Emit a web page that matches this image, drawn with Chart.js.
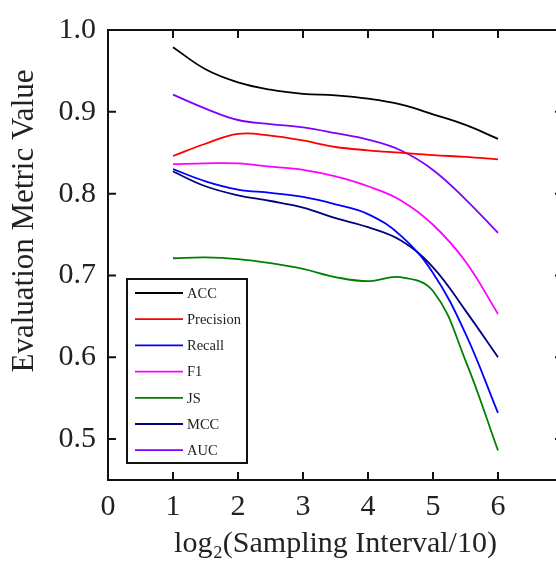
<!DOCTYPE html>
<html>
<head>
<meta charset="utf-8">
<script src="https://cdn.jsdelivr.net/npm/chart.js@4.4.1/dist/chart.umd.min.js"></script>
<style>
html, body { margin: 0; padding: 0; overflow: hidden; background: #fff; width: 556px; height: 562px; }
canvas { display: block; }
</style>
</head>
<body>
<canvas id="c" width="572" height="562"></canvas>
<script>
// x positions: log2(Sampling Interval/10)
const xValues = [1, 1.5, 2, 2.5, 3, 3.5, 4, 4.5, 5, 5.5, 6];
const accValues       = [0.979, 0.952, 0.936, 0.927, 0.922, 0.920, 0.916, 0.909, 0.897, 0.884, 0.867];
const precisionValues = [0.846, 0.861, 0.873, 0.871, 0.865, 0.857, 0.853, 0.850, 0.847, 0.845, 0.842];
const recallValues    = [0.830, 0.815, 0.805, 0.801, 0.796, 0.787, 0.775, 0.749, 0.703, 0.629, 0.532];
const f1Values        = [0.836, 0.837, 0.837, 0.833, 0.829, 0.821, 0.809, 0.792, 0.762, 0.717, 0.653];
const jsValues        = [0.721, 0.722, 0.720, 0.715, 0.708, 0.698, 0.693, 0.698, 0.681, 0.596, 0.486];
const mccValues       = [0.827, 0.809, 0.798, 0.791, 0.783, 0.770, 0.759, 0.743, 0.710, 0.657, 0.600];
const aucValues       = [0.921, 0.904, 0.890, 0.885, 0.881, 0.874, 0.866, 0.853, 0.829, 0.793, 0.752];
const seriesNames  = ['ACC', 'Precision', 'Recall', 'F1', 'JS', 'MCC', 'AUC'];
const seriesColors = ['#000000', '#ff0000', '#0000ff', '#ff00ff', '#008000', '#000080', '#8000ff'];
const xTicks = [0, 1, 2, 3, 4, 5, 6];
const yTicks = [0.5, 0.6, 0.7, 0.8, 0.9, 1.0];
const xTitle = 'log\u2082(Sampling Interval/10)';
const yTitle = 'Evaluation Metric Value';

const allSeries = [accValues, precisionValues, recallValues, f1Values, jsValues, mccValues, aucValues];
const datasets = allSeries.map((vals, i) => ({
  label: seriesNames[i],
  data: vals.map((v, j) => ({ x: xValues[j], y: v })),
  borderColor: seriesColors[i],
  backgroundColor: seriesColors[i],
  borderWidth: 1.8,
  pointRadius: 0,
  tension: 0.4,
  fill: false
}));

const FONT = '"Liberation Serif", "Times New Roman", serif';

const framePlugin = {
  id: 'frame',
  afterDraw(chart) {
    const { ctx, chartArea: a, scales } = chart;
    const xs = scales.x, ys = scales.y;
    ctx.save();
    ctx.strokeStyle = '#111';
    ctx.lineWidth = 2;
    ctx.beginPath();
    ctx.rect(a.left, a.top, a.right - a.left, a.bottom - a.top);
    ctx.stroke();
    const t = 8;
    ctx.beginPath();
    xTicks.forEach(v => {
      const px = xs.getPixelForValue(v);
      ctx.moveTo(px, a.bottom); ctx.lineTo(px, a.bottom - t);
      ctx.moveTo(px, a.top); ctx.lineTo(px, a.top + t);
    });
    yTicks.forEach(v => {
      const py = ys.getPixelForValue(v);
      ctx.moveTo(a.left, py); ctx.lineTo(a.left + t, py);
      ctx.moveTo(a.right, py); ctx.lineTo(a.right - t, py);
    });
    ctx.stroke();

    // y-axis title
    ctx.save();
    ctx.translate(25, 221);
    ctx.rotate(-Math.PI / 2);
    ctx.font = '31px ' + FONT;
    ctx.fillStyle = '#222';
    ctx.textAlign = 'center';
    ctx.textBaseline = 'middle';
    ctx.fillText(yTitle, 0, 0);
    ctx.restore();

    // legend box
    const bx = 127, by = 279, bw = 120, bh = 184;
    ctx.fillStyle = '#fff';
    ctx.fillRect(bx, by, bw, bh);
    ctx.lineWidth = 2;
    ctx.strokeStyle = '#111';
    ctx.strokeRect(bx, by, bw, bh);
    ctx.font = '14.5px ' + FONT;
    ctx.textBaseline = 'middle';
    chart.data.datasets.forEach((ds, i) => {
      const y = by + 14 + i * 26.2;
      ctx.strokeStyle = ds.borderColor;
      ctx.lineWidth = 1.8;
      ctx.beginPath();
      ctx.moveTo(bx + 8, y); ctx.lineTo(bx + 56, y);
      ctx.stroke();
      ctx.fillStyle = '#222';
      ctx.fillText(ds.label, bx + 60, y + 1);
    });
    ctx.restore();
  }
};

new Chart(document.getElementById('c'), {
  type: 'line',
  data: { datasets },
  options: {
    responsive: false,
    devicePixelRatio: 1,
    animation: false,
    layout: { padding: { top: 25, right: 9, left: 0, bottom: 0 } },
    plugins: { legend: { display: false }, tooltip: { enabled: false } },
    scales: {
      x: {
        type: 'linear', min: 0, max: 7,
        afterBuildTicks: s => { s.ticks = xTicks.map(v => ({ value: v })); },
        afterFit: s => { s.height = 82; },
        grid: { display: false, drawTicks: false },
        border: { display: false },
        ticks: { font: { family: FONT, size: 30 }, color: '#222', padding: 9, maxRotation: 0 },
        title: { display: true, text: xTitle, font: { family: FONT, size: 30 }, color: '#222', padding: { top: 0, bottom: 0 } }
      },
      y: {
        type: 'linear', min: 0.45, max: 1.0,
        afterBuildTicks: s => { s.ticks = yTicks.map(v => ({ value: v })); },
        afterFit: s => { s.width = 108; },
        grid: { display: false, drawTicks: false },
        border: { display: false },
        ticks: { font: { family: FONT, size: 30 }, color: '#222', padding: 12, callback: v => v.toFixed(1) },
        title: { display: false }
      }
    }
  },
  plugins: [framePlugin]
});
</script>
</body>
</html>
